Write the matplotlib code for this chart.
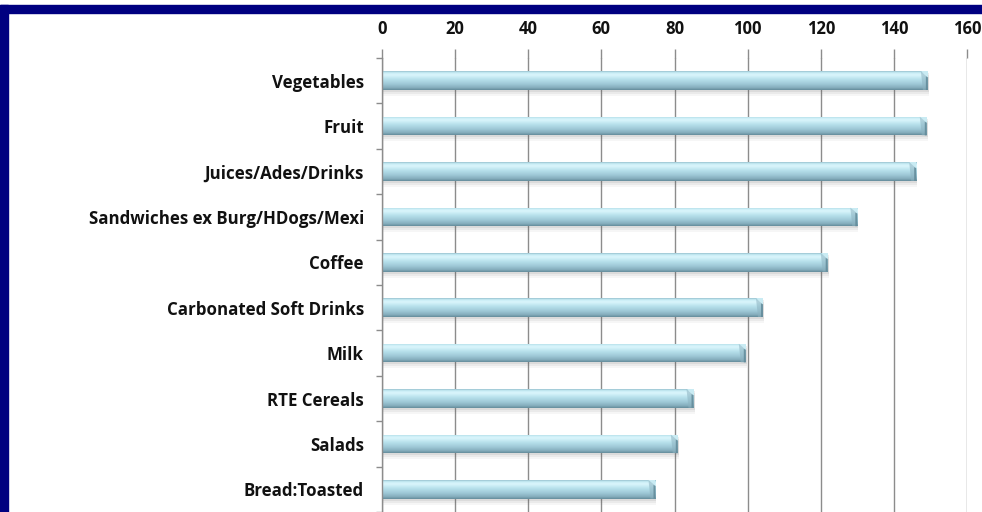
import numpy as np
import matplotlib
matplotlib.use("Agg")
import matplotlib.pyplot as plt
from matplotlib.patches import Rectangle, Polygon
from matplotlib.colors import LinearSegmentedColormap

categories = ["Vegetables", "Fruit", "Juices/Ades/Drinks", "Sandwiches ex Burg/HDogs/Mexi",
              "Coffee", "Carbonated Soft Drinks", "Milk", "RTE Cereals", "Salads", "Bread:Toasted"]
values = [149.3, 149.0, 146.1, 130.0, 121.9, 104.2, 99.5, 85.2, 80.9, 74.8]
xticks = [0, 20, 40, 60, 80, 100, 120, 140, 160]

W, H, DPI = 982, 512, 100
fig = plt.figure(figsize=(W / DPI, H / DPI), dpi=DPI)
fig.patch.set_facecolor("white")

# navy frame (top and left visible)
navy = "#000080"
fig.add_artist(Rectangle((0, 1 - 13 / H), 1, 8 / H, transform=fig.transFigure, color=navy, zorder=0))
fig.add_artist(Rectangle((0, 0), 8 / W, 1 - 5 / H, transform=fig.transFigure, color=navy, zorder=0))

ax_left, ax_right = 382 / W, 967 / W
ax_top = 1 - 58 / H
ax = fig.add_axes([ax_left, 0, ax_right - ax_left, ax_top])
ax.set_facecolor("none")

n = len(categories)
slot_px = 45.5
span = (ax_top * H) / slot_px
ax.set_xlim(0, 160)
ax.set_ylim(-0.5 + span, -0.5)

bh = 0.41
px = 1.0 / slot_px          # one pixel in y data units
ux = 160.0 / (967 - 382)    # one pixel in x data units
grad_cmap = LinearSegmentedColormap.from_list(
    "cyl",
    [(0.0, "#93bccb"), (0.07, "#c6ecf5"), (0.2, "#dbf6fc"), (0.42, "#b9e2ed"),
     (0.68, "#9fc9d7"), (0.9, "#83abba"), (1.0, "#628a99")])
grad = np.linspace(0, 1, 64).reshape(-1, 1)

ys = np.arange(n)
# soft shadows below bars
for dy, a in [(2 * px, 0.10), (4 * px, 0.08), (6 * px, 0.05)]:
    ax.barh(ys + dy, values, height=bh, left=ux, color="#606060", alpha=a,
            edgecolor="none", zorder=2)
bars = ax.barh(ys, values, height=bh, color="#a9d6e3", edgecolor="none", zorder=3)
for y, v, b in zip(ys, values, bars):
    top, bot = y - bh / 2, y + bh / 2
    im = ax.imshow(grad, aspect="auto", cmap=grad_cmap, origin="upper",
                   extent=(0, v, bot, top), zorder=4, interpolation="bicubic")
    im.set_clip_path(b)
    e = 7 * ux
    # chamfered end: light top corner, darker facet and dark right edge
    ax.add_patch(Polygon([(v - e, top), (v, top), (v, top + 6 * px)],
                         closed=True, facecolor="#c9ebf3", edgecolor="none", zorder=5))
    ax.add_patch(Polygon([(v - e, top), (v, top + 6 * px), (v, bot), (v - e + 2 * ux, bot)],
                         closed=True, facecolor="#8db3c1", edgecolor="none", zorder=5, alpha=0.55))
    ax.add_patch(Polygon([(v - 2 * ux, top + 5 * px), (v, top + 6 * px), (v, bot), (v - 2 * ux, bot)],
                         closed=True, facecolor="#5f8796", edgecolor="none", zorder=5, alpha=0.8))

ax.set_axisbelow(True)
ax.xaxis.tick_top()
ax.set_xticks(xticks)
ax.set_xticklabels([str(t) for t in xticks])
ax.grid(axis="x", color="#8c8c8c", lw=1.0, zorder=0)
ax.tick_params(axis="x", which="major", length=6.5, width=1.0, color="#8c8c8c", pad=8,
               labelsize=12, labelcolor="#111111")
for lab in ax.get_xticklabels():
    lab.set_fontweight("bold")
    lab.set_fontfamily("Open Sans")

ax.set_yticks(ys)
ax.set_yticklabels(categories)
ax.set_yticks(np.arange(n + 1) - 0.5, minor=True)
ax.tick_params(axis="y", which="major", length=0, pad=13, labelsize=12.2, labelcolor="#111111")
ax.tick_params(axis="y", which="minor", length=4.5, width=1.0, color="#8c8c8c")
for lab in ax.get_yticklabels():
    lab.set_fontweight("bold")
    lab.set_fontfamily("Open Sans")

for s in ["top", "right", "bottom"]:
    ax.spines[s].set_visible(False)
ax.spines["left"].set_color("#8c8c8c")
ax.spines["left"].set_linewidth(1.0)
ax.spines["left"].set_zorder(7)

fig.savefig("out.png", dpi=DPI)
